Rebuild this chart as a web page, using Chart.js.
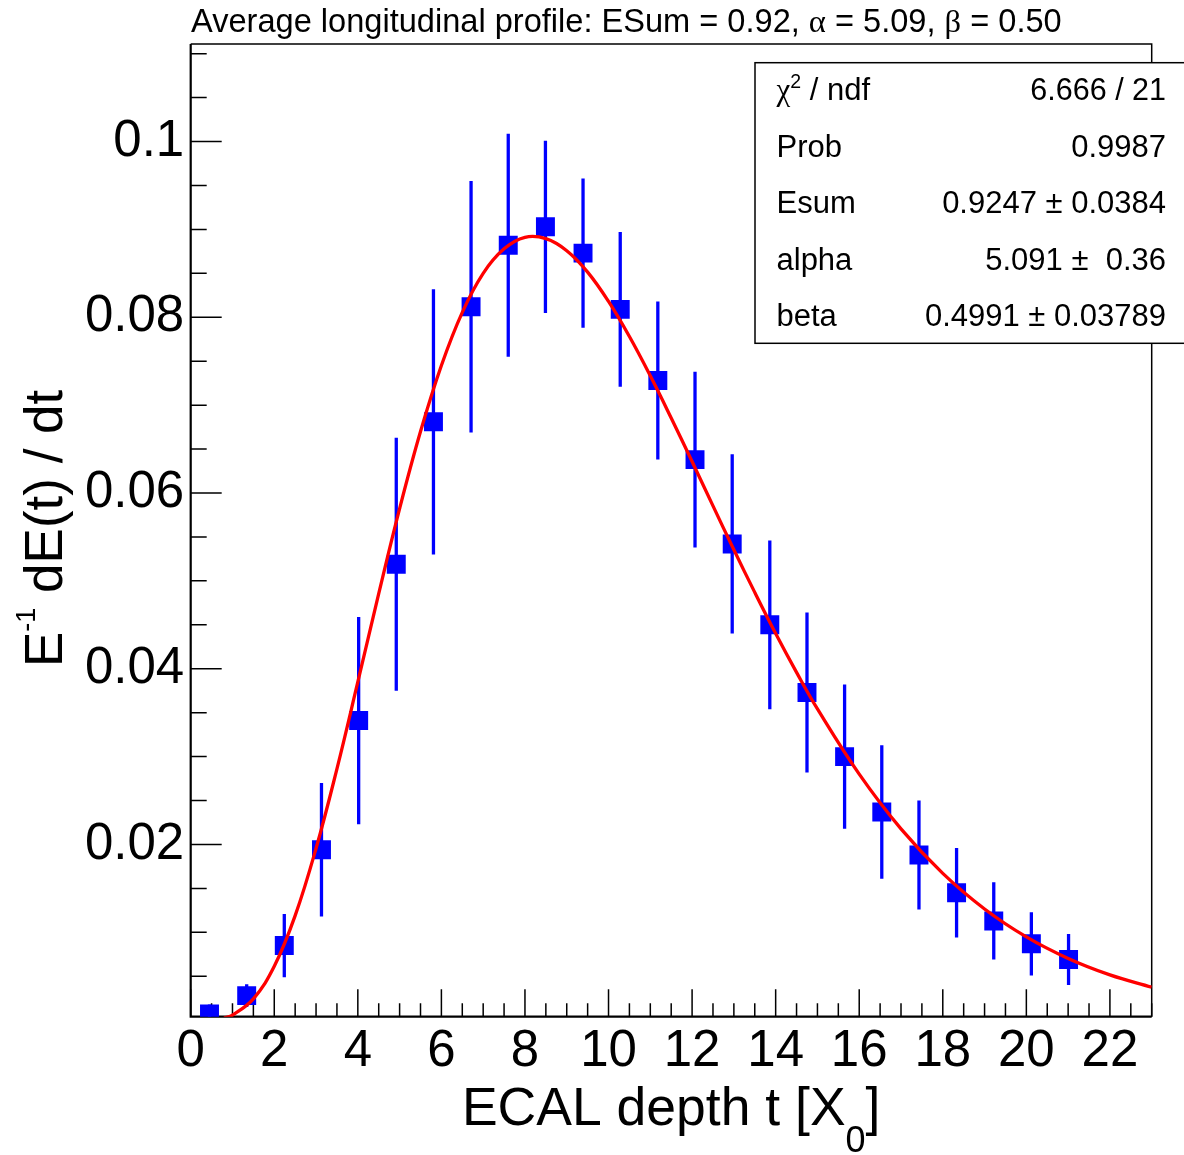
<!DOCTYPE html>
<html>
<head>
<meta charset="utf-8">
<script src="https://cdn.jsdelivr.net/npm/chart.js@4.4.1/dist/chart.umd.min.js"></script>
<style>
  html, body { margin: 0; padding: 0; background: #fff; }
  #wrap { width: 1184px; height: 1155px; }
</style>
</head>
<body>
<div id="wrap"><canvas id="c" width="1184" height="1155"></canvas></div>
<script>
// ---- data ----
const binCenters = [0.45, 1.34, 2.24, 3.13, 4.02, 4.92, 5.81, 6.71, 7.60, 8.49, 9.39, 10.28,
                    11.18, 12.07, 12.96, 13.86, 14.75, 15.65, 16.54, 17.43, 18.33, 19.22, 20.12, 21.01];
const profileValues = [0.0007, 0.0028, 0.0085, 0.0194, 0.0341, 0.0519, 0.0681, 0.0812, 0.0882, 0.0903, 0.0873, 0.0809,
                       0.0728, 0.0638, 0.0542, 0.0450, 0.0373, 0.0300, 0.0237, 0.0188, 0.0145, 0.0113, 0.0087, 0.0069];
const profileErrors = [0.0011, 0.0013, 0.0036, 0.0076, 0.0118, 0.0144, 0.0151, 0.0143, 0.0127, 0.0098, 0.0085, 0.0088,
                       0.0090, 0.0100, 0.0102, 0.0096, 0.0091, 0.0082, 0.0076, 0.0062, 0.0051, 0.0044, 0.0036, 0.0029];

const fitT = [0.8, 1, 1.5, 2, 2.5, 3, 3.5, 4, 4.5, 5, 5.5, 6, 6.5, 7, 7.5, 8, 8.5, 9, 9.5, 10, 10.5, 11, 11.5, 12,
              12.5, 13, 13.5, 14, 14.5, 15, 16, 17, 18, 19, 20, 21, 22, 23];
const fitValues = [0.00026, 0.00059, 0.00243, 0.00613, 0.01190, 0.01955, 0.02861, 0.03850, 0.04855, 0.05822, 0.06699, 0.07451,
                   0.08056, 0.08500, 0.08779, 0.08910, 0.08895, 0.08758, 0.08514, 0.08180, 0.07781, 0.07334, 0.06854, 0.06358,
                   0.05853, 0.05354, 0.04869, 0.04401, 0.03959, 0.03543, 0.02801, 0.02178, 0.01671, 0.01266, 0.00948, 0.00703,
                   0.00516, 0.00376];

const xMajorTicks = [0, 2, 4, 6, 8, 10, 12, 14, 16, 18, 20, 22];
const xTickLabels = ['0', '2', '4', '6', '8', '10', '12', '14', '16', '18', '20', '22'];
const xMinorTicks = [0.5, 1, 1.5, 2.5, 3, 3.5, 4.5, 5, 5.5, 6.5, 7, 7.5, 8.5, 9, 9.5, 10.5, 11, 11.5, 12.5, 13, 13.5,
                     14.5, 15, 15.5, 16.5, 17, 17.5, 18.5, 19, 19.5, 20.5, 21, 21.5, 22.5, 23];
const yMajorTicks = [0.02, 0.04, 0.06, 0.08, 0.1];
const yTickLabels = ['0.02', '0.04', '0.06', '0.08', '0.1'];
const yMinorTicks = [0.005, 0.01, 0.015, 0.025, 0.03, 0.035, 0.045, 0.05, 0.055, 0.065, 0.07, 0.075,
                     0.085, 0.09, 0.095, 0.105, 0.11];

const statLabels = ['Prob', 'Esum', 'alpha', 'beta'];
const statValues = ['0.9987', '0.9247 \u00b1 0.0384', '5.091 \u00b1  0.36', '0.4991 \u00b1 0.03789'];
const chi2Text = '6.666 / 21';

// ---- styling ----
const SANS = '"Liberation Sans", Arial, Helvetica, sans-serif';
const SERIF = '"Liberation Serif", "DejaVu Serif", serif';

function drawRich(ctx, x, y, segs, align) {
  let total = 0;
  for (const s of segs) {
    ctx.font = s.size + 'px ' + (s.family || SANS);
    s.w = ctx.measureText(s.text).width;
    total += s.w;
  }
  let cx = align === 'right' ? x - total : (align === 'center' ? x - total / 2 : x);
  ctx.textAlign = 'left';
  ctx.textBaseline = 'alphabetic';
  for (const s of segs) {
    ctx.font = s.size + 'px ' + (s.family || SANS);
    ctx.fillText(s.text, cx, y + (s.dy || 0));
    cx += s.w;
  }
}

const rootPlugin = {
  id: 'rootFrame',
  beforeDatasetsDraw(chart) {
    const { ctx, chartArea: a } = chart;
    const xs = chart.scales.x, ys = chart.scales.y;
    ctx.save();
    ctx.strokeStyle = '#000';
    ctx.lineWidth = 1.5;
    ctx.beginPath();
    xMinorTicks.forEach(v => { const p = xs.getPixelForValue(v); ctx.moveTo(p, a.bottom); ctx.lineTo(p, a.bottom - 13.5); });
    xMajorTicks.forEach(v => { const p = xs.getPixelForValue(v); ctx.moveTo(p, a.bottom); ctx.lineTo(p, a.bottom - 27.5); });
    yMinorTicks.forEach(v => { const p = ys.getPixelForValue(v); ctx.moveTo(a.left, p); ctx.lineTo(a.left + 16, p); });
    yMajorTicks.forEach(v => { const p = ys.getPixelForValue(v); ctx.moveTo(a.left, p); ctx.lineTo(a.left + 31, p); });
    ctx.stroke();
    ctx.lineWidth = 1.5;
    ctx.beginPath();
    ctx.moveTo(a.left, a.top); ctx.lineTo(a.right, a.top); ctx.lineTo(a.right, a.bottom);
    ctx.stroke();
    ctx.lineWidth = 2.2;
    ctx.beginPath();
    ctx.moveTo(a.left, a.top); ctx.lineTo(a.left, a.bottom); ctx.lineTo(a.right, a.bottom);
    ctx.stroke();

    // error bars
    ctx.beginPath();
    ctx.rect(a.left, a.top, a.right - a.left, a.bottom - a.top);
    ctx.clip();
    ctx.strokeStyle = '#0000ff';
    ctx.lineWidth = 3.3;
    ctx.beginPath();
    binCenters.forEach((c, i) => {
      const px = xs.getPixelForValue(c);
      ctx.moveTo(px, ys.getPixelForValue(profileValues[i] - profileErrors[i]));
      ctx.lineTo(px, ys.getPixelForValue(profileValues[i] + profileErrors[i]));
    });
    ctx.stroke();
    ctx.restore();
  },
  afterDraw(chart) {
    const { ctx, chartArea: a } = chart;
    ctx.save();
    ctx.fillStyle = '#000';
    // title
    drawRich(ctx, 191, 32.3, [
      { text: 'Average longitudinal profile: ESum = 0.92, ', size: 32.6 },
      { text: '\u03b1', size: 32.6, family: SERIF },
      { text: ' = 5.09, ', size: 32.6 },
      { text: '\u03b2', size: 32.6, family: SERIF },
      { text: ' = 0.50', size: 32.6 }
    ], 'left');

    // x title
    drawRich(ctx, (a.left + a.right) / 2, 1125, [
      { text: 'ECAL depth t [X', size: 53.5 },
      { text: '0', size: 36, dy: 27 },
      { text: ']', size: 53.5 }
    ], 'center');

    // y title
    ctx.save();
    ctx.translate(61.7, (a.top + a.bottom) / 2 - 2);
    ctx.rotate(-Math.PI / 2);
    drawRich(ctx, 0, 0, [
      { text: 'E', size: 53 },
      { text: '-1', size: 27, dy: -27 },
      { text: ' dE(t) / dt', size: 53 }
    ], 'center');
    ctx.restore();

    // stats box
    const bx = 755, by = 62.7, bw = 440, bh = 280.6;
    ctx.fillStyle = '#fff';
    ctx.fillRect(bx, by, bw, bh);
    ctx.strokeStyle = '#000';
    ctx.lineWidth = 1.5;
    ctx.strokeRect(bx, by, bw, bh);
    ctx.fillStyle = '#000';
    const rowBase = [100, 156.5, 213, 269.5, 326];
    drawRich(ctx, 776.5, rowBase[0], [
      { text: '\u03c7', size: 31, family: SERIF },
      { text: '2', size: 19.5, dy: -12 },
      { text: ' / ndf', size: 31 }
    ], 'left');
    drawRich(ctx, 1166, rowBase[0], [{ text: chi2Text, size: 30.5 }], 'right');
    statLabels.forEach((lab, i) => {
      drawRich(ctx, 776.5, rowBase[i + 1], [{ text: lab, size: 31 }], 'left');
      drawRich(ctx, 1166, rowBase[i + 1], [{ text: statValues[i], size: 31 }], 'right');
    });
    ctx.restore();
  }
};

const ctx = document.getElementById('c').getContext('2d');
new Chart(ctx, {
  type: 'scatter',
  data: {
    datasets: [
      {
        type: 'line',
        label: 'fit',
        data: fitT.map((t, i) => ({ x: t, y: fitValues[i] })),
        borderColor: '#ff0000',
        borderWidth: 3.3,
        pointRadius: 0,
        tension: 0.4,
        fill: false,
        clip: 0,
        order: 0
      },
      {
        type: 'scatter',
        label: 'profile',
        data: binCenters.map((c, i) => ({ x: c, y: profileValues[i] })),
        pointStyle: 'rect',
        pointRadius: 13.4,
        pointBorderWidth: 0,
        backgroundColor: '#0000ff',
        borderColor: '#0000ff',
        showLine: false,
        order: 1
      }
    ]
  },
  options: {
    responsive: false,
    animation: false,
    devicePixelRatio: 1,
    layout: { padding: { left: 0, right: 32.3, top: 44, bottom: 0 } },
    plugins: { legend: { display: false }, tooltip: { enabled: false }, title: { display: false } },
    events: [],
    scales: {
      x: {
        type: 'linear',
        min: 0, max: 23,
        grid: { display: false, drawTicks: false },
        border: { display: false },
        ticks: {
          color: '#000',
          font: { family: SANS, size: 51 },
          padding: 5,
          autoSkip: false,
          maxRotation: 0, minRotation: 0,
          callback: (v, i) => xTickLabels[i]
        },
        afterBuildTicks: s => { s.ticks = xMajorTicks.map(v => ({ value: v })); },
        afterFit: s => { s.height = 138.3; }
      },
      y: {
        type: 'linear',
        min: 0.0004, max: 0.1111,
        grid: { display: false, drawTicks: false },
        border: { display: false },
        ticks: {
          color: '#000',
          font: { family: SANS, size: 51 },
          padding: 6.5,
          autoSkip: false,
          callback: (v, i) => yTickLabels[i]
        },
        afterBuildTicks: s => { s.ticks = yMajorTicks.map(v => ({ value: v })); },
        afterFit: s => { s.width = 190.7; }
      }
    }
  },
  plugins: [rootPlugin]
});
</script>
</body>
</html>
